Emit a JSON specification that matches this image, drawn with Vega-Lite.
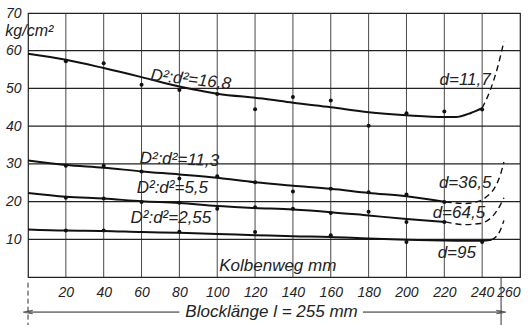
{
  "$schema": "https://vega.github.io/schema/vega-lite/v6.json",
  "width": 492,
  "height": 264,
  "autosize": "none",
  "padding": {"left": 28, "top": 13, "right": 8, "bottom": 48},
  "background": "white",
  "config": {
    "view": {"stroke": "#222", "strokeWidth": 1.2},
    "font": "Liberation Sans",
    "axis": {"grid": false, "labelOverlap": false, "labelFont": "Liberation Sans", "labelFontStyle": "italic", "labelFontSize": 14, "labelColor": "#222", "domain": false, "ticks": true, "tickSize": 0, "tickOpacity": 0, "title": null}
  },
  "datasets": {
    "grid": [
      {"g": "v20", "x": 20, "y": 0}, {"g": "v20", "x": 20, "y": 70},
      {"g": "v40", "x": 40, "y": 0}, {"g": "v40", "x": 40, "y": 70},
      {"g": "v60", "x": 60, "y": 0}, {"g": "v60", "x": 60, "y": 70},
      {"g": "v80", "x": 80, "y": 0}, {"g": "v80", "x": 80, "y": 70},
      {"g": "v100", "x": 100, "y": 0}, {"g": "v100", "x": 100, "y": 70},
      {"g": "v120", "x": 120, "y": 0}, {"g": "v120", "x": 120, "y": 70},
      {"g": "v140", "x": 140, "y": 0}, {"g": "v140", "x": 140, "y": 70},
      {"g": "v160", "x": 160, "y": 0}, {"g": "v160", "x": 160, "y": 70},
      {"g": "v180", "x": 180, "y": 0}, {"g": "v180", "x": 180, "y": 70},
      {"g": "v200", "x": 200, "y": 0}, {"g": "v200", "x": 200, "y": 70},
      {"g": "v220", "x": 220, "y": 0}, {"g": "v220", "x": 220, "y": 70},
      {"g": "v240", "x": 240, "y": 0}, {"g": "v240", "x": 240, "y": 70}
    ],
    "hgrid": [
      {"g": "h10", "x": 0, "y": 10}, {"g": "h10", "x": 130, "y": 10}, {"g": "h10", "x": 260, "y": 10},
      {"g": "h20", "x": 0, "y": 20}, {"g": "h20", "x": 130, "y": 20}, {"g": "h20", "x": 260, "y": 20},
      {"g": "h30", "x": 0, "y": 30}, {"g": "h30", "x": 130, "y": 30}, {"g": "h30", "x": 260, "y": 30},
      {"g": "h40", "x": 0, "y": 40}, {"g": "h40", "x": 130, "y": 40}, {"g": "h40", "x": 260, "y": 40},
      {"g": "h50", "x": 0, "y": 50}, {"g": "h50", "x": 130, "y": 50}, {"g": "h50", "x": 260, "y": 50},
      {"g": "h60", "x": 0, "y": 60}, {"g": "h60", "x": 130, "y": 60}, {"g": "h60", "x": 260, "y": 60}
    ],
    "curves": [
      {"s": "a", "p": "solid", "x": 0, "y": 59.2}, {"s": "a", "p": "solid", "x": 20, "y": 57.6}, {"s": "a", "p": "solid", "x": 40, "y": 55.4}, {"s": "a", "p": "solid", "x": 60, "y": 53.0}, {"s": "a", "p": "solid", "x": 80, "y": 50.5}, {"s": "a", "p": "solid", "x": 100, "y": 48.6}, {"s": "a", "p": "solid", "x": 124, "y": 47.3}, {"s": "a", "p": "solid", "x": 140, "y": 46.2}, {"s": "a", "p": "solid", "x": 160, "y": 45.0}, {"s": "a", "p": "solid", "x": 180, "y": 43.7}, {"s": "a", "p": "solid", "x": 200, "y": 42.9}, {"s": "a", "p": "solid", "x": 220, "y": 42.4}, {"s": "a", "p": "solid", "x": 226, "y": 42.4}, {"s": "a", "p": "solid", "x": 234, "y": 43.5}, {"s": "a", "p": "solid", "x": 240, "y": 44.8},
      {"s": "a", "p": "dash", "x": 240, "y": 44.8}, {"s": "a", "p": "dash", "x": 244.4, "y": 49.7}, {"s": "a", "p": "dash", "x": 248.8, "y": 56.8}, {"s": "a", "p": "dash", "x": 251.5, "y": 62.5},
      {"s": "b", "p": "solid", "x": 0, "y": 30.9}, {"s": "b", "p": "solid", "x": 20, "y": 29.7}, {"s": "b", "p": "solid", "x": 40, "y": 29.0}, {"s": "b", "p": "solid", "x": 60, "y": 28.0}, {"s": "b", "p": "solid", "x": 80, "y": 27.2}, {"s": "b", "p": "solid", "x": 100, "y": 26.3}, {"s": "b", "p": "solid", "x": 120, "y": 25.1}, {"s": "b", "p": "solid", "x": 140, "y": 24.2}, {"s": "b", "p": "solid", "x": 160, "y": 23.4}, {"s": "b", "p": "solid", "x": 180, "y": 22.3}, {"s": "b", "p": "solid", "x": 200, "y": 21.4}, {"s": "b", "p": "solid", "x": 220.7, "y": 19.9},
      {"s": "b", "p": "dash", "x": 220.7, "y": 19.9}, {"s": "b", "p": "dash", "x": 231.2, "y": 19.5}, {"s": "b", "p": "dash", "x": 238.3, "y": 20.1}, {"s": "b", "p": "dash", "x": 242.6, "y": 21.4}, {"s": "b", "p": "dash", "x": 247.1, "y": 24.1}, {"s": "b", "p": "dash", "x": 249.7, "y": 27.2}, {"s": "b", "p": "dash", "x": 251.5, "y": 30.5},
      {"s": "c", "p": "solid", "x": 0, "y": 22.3}, {"s": "c", "p": "solid", "x": 20, "y": 21.3}, {"s": "c", "p": "solid", "x": 40, "y": 20.8}, {"s": "c", "p": "solid", "x": 60, "y": 20.1}, {"s": "c", "p": "solid", "x": 80, "y": 19.6}, {"s": "c", "p": "solid", "x": 100, "y": 18.8}, {"s": "c", "p": "solid", "x": 120, "y": 18.3}, {"s": "c", "p": "solid", "x": 140, "y": 17.9}, {"s": "c", "p": "solid", "x": 160, "y": 17.2}, {"s": "c", "p": "solid", "x": 180, "y": 16.3}, {"s": "c", "p": "solid", "x": 200, "y": 15.4}, {"s": "c", "p": "solid", "x": 220.7, "y": 14.6},
      {"s": "c", "p": "dash", "x": 220.7, "y": 14.6}, {"s": "c", "p": "dash", "x": 231, "y": 13.9}, {"s": "c", "p": "dash", "x": 239, "y": 14.2}, {"s": "c", "p": "dash", "x": 243.5, "y": 15.2}, {"s": "c", "p": "dash", "x": 247, "y": 17.0}, {"s": "c", "p": "dash", "x": 249.7, "y": 19.2}, {"s": "c", "p": "dash", "x": 251.5, "y": 21.0},
      {"s": "d", "p": "solid", "x": 0, "y": 12.6}, {"s": "d", "p": "solid", "x": 20, "y": 12.3}, {"s": "d", "p": "solid", "x": 40, "y": 12.2}, {"s": "d", "p": "solid", "x": 60, "y": 11.9}, {"s": "d", "p": "solid", "x": 80, "y": 11.7}, {"s": "d", "p": "solid", "x": 100, "y": 11.4}, {"s": "d", "p": "solid", "x": 120, "y": 11.1}, {"s": "d", "p": "solid", "x": 140, "y": 10.8}, {"s": "d", "p": "solid", "x": 160, "y": 10.6}, {"s": "d", "p": "solid", "x": 180, "y": 10.2}, {"s": "d", "p": "solid", "x": 200, "y": 9.9}, {"s": "d", "p": "solid", "x": 220, "y": 9.7}, {"s": "d", "p": "solid", "x": 240, "y": 9.6}, {"s": "d", "p": "solid", "x": 245, "y": 9.9},
      {"s": "d", "p": "dash", "x": 245, "y": 9.9}, {"s": "d", "p": "dash", "x": 247.2, "y": 10.6}, {"s": "d", "p": "dash", "x": 249.3, "y": 12.1}, {"s": "d", "p": "dash", "x": 251.5, "y": 15.0}
    ],
    "points": [
      {"s": "a", "x": 20, "y": 57.2}, {"s": "a", "x": 40, "y": 56.7}, {"s": "a", "x": 60, "y": 51.0}, {"s": "a", "x": 80, "y": 49.6}, {"s": "a", "x": 100, "y": 48.5}, {"s": "a", "x": 120, "y": 44.5}, {"s": "a", "x": 140, "y": 47.7}, {"s": "a", "x": 160, "y": 46.8}, {"s": "a", "x": 180, "y": 40.1}, {"s": "a", "x": 200, "y": 43.4}, {"s": "a", "x": 220, "y": 43.9}, {"s": "a", "x": 240, "y": 44.4},
      {"s": "b", "x": 20, "y": 29.5}, {"s": "b", "x": 40, "y": 29.5}, {"s": "b", "x": 60, "y": 28.0}, {"s": "b", "x": 80, "y": 26.1}, {"s": "b", "x": 100, "y": 26.7}, {"s": "b", "x": 120, "y": 25.1}, {"s": "b", "x": 140, "y": 22.7}, {"s": "b", "x": 160, "y": 23.4}, {"s": "b", "x": 180, "y": 22.5}, {"s": "b", "x": 200, "y": 21.9}, {"s": "b", "x": 220, "y": 19.9},
      {"s": "c", "x": 20, "y": 21.0}, {"s": "c", "x": 40, "y": 20.8}, {"s": "c", "x": 60, "y": 19.9}, {"s": "c", "x": 80, "y": 19.7}, {"s": "c", "x": 100, "y": 18.1}, {"s": "c", "x": 120, "y": 18.5}, {"s": "c", "x": 140, "y": 18.1}, {"s": "c", "x": 160, "y": 17.0}, {"s": "c", "x": 180, "y": 17.3}, {"s": "c", "x": 200, "y": 14.6}, {"s": "c", "x": 220, "y": 14.6},
      {"s": "d", "x": 20, "y": 12.3}, {"s": "d", "x": 40, "y": 12.3}, {"s": "d", "x": 80, "y": 12.0}, {"s": "d", "x": 120, "y": 11.9}, {"s": "d", "x": 160, "y": 11.1}, {"s": "d", "x": 200, "y": 9.3}, {"s": "d", "x": 240, "y": 9.3}
    ],
    "labels": [
      {"t": "D²:d²=16,8", "x": 86, "y": 52.3, "a": 6.5, "fs": 17},
      {"t": "D²:d²=11,3", "x": 80, "y": 31.1, "a": 2, "fs": 17},
      {"t": "D²:d²=5,5", "x": 76.3, "y": 23.6, "a": 0, "fs": 17},
      {"t": "D²:d²=2,55", "x": 75.5, "y": 15.7, "a": 0, "fs": 17},
      {"t": "d=11,7", "x": 231, "y": 52.3, "a": 0, "fs": 17},
      {"t": "d=36,5", "x": 231, "y": 25.0, "a": 0, "fs": 17},
      {"t": "d=64,5", "x": 227.7, "y": 17.0, "a": 0, "fs": 17},
      {"t": "d=95", "x": 226.6, "y": 6.4, "a": 0, "fs": 17},
      {"t": "Kolbenweg mm", "x": 132, "y": 3.0, "a": 0, "fs": 17},
      {"t": "Blocklänge l = 255 mm", "x": 128.7, "y": -9.3, "a": 0, "fs": 17}
    ],
    "unit": [{"t": "kg/cm²", "x": -12, "y": 65.2}],
    "arrow": [
      {"x": 0, "x2": 80, "y": -9.3},
      {"x": 177, "x2": 250, "y": -9.3}
    ],
    "heads": [
      {"x": 0, "y": -9.3, "dir": "L"},
      {"x": 250, "y": -9.3, "dir": "R"}
    ],
    "vlines": [
      {"x": 0, "y": -1.5, "y2": -13, "k": "dash"},
      {"x": 250, "y": 0, "y2": -13, "k": "solid"}
    ]
  },
  "encoding": {
    "x": {"field": "x", "type": "quantitative", "scale": {"domain": [0, 260], "nice": false, "zero": false},
      "axis": {"values": [0, 20, 40, 60, 80, 100, 120, 140, 160, 180, 200, 220, 240, 260], "labelExpr": "datum.value == 0 ? '' : datum.label", "labelPadding": 8, "labelOverlap": false}},
    "y": {"field": "y", "type": "quantitative", "scale": {"domain": [0, 70], "nice": false, "zero": false},
      "axis": {"values": [0, 10, 20, 30, 40, 50, 60, 70], "labelExpr": "datum.value == 0 ? '' : datum.label", "labelPadding": 7, "labelOverlap": false}}
  },
  "layer": [
    {
      "data": {"name": "grid"},
      "mark": {"type": "line", "color": "#333", "strokeWidth": 0.9, "interpolate": "linear"},
      "encoding": {"detail": {"field": "g"}}
    },
    {
      "data": {"name": "hgrid"},
      "mark": {"type": "line", "color": "#222", "strokeWidth": 1.3, "interpolate": "linear"},
      "encoding": {"detail": {"field": "g"}}
    },
    {
      "data": {"name": "curves"},
      "transform": [{"filter": "datum.p == 'solid'"}],
      "mark": {"type": "line", "interpolate": "monotone", "color": "#111", "strokeWidth": 2},
      "encoding": {"detail": {"field": "s"}}
    },
    {
      "data": {"name": "curves"},
      "transform": [{"filter": "datum.p == 'dash'"}],
      "mark": {"type": "line", "interpolate": "monotone", "color": "#111", "strokeWidth": 1.4, "strokeDash": [6, 4]},
      "encoding": {"detail": {"field": "s"}}
    },
    {
      "data": {"name": "points"},
      "mark": {"type": "circle", "color": "#111", "size": 16, "opacity": 1}
    },
    {
      "data": {"name": "arrow"},
      "mark": {"type": "rule", "color": "#222", "strokeWidth": 1},
      "encoding": {"x2": {"field": "x2"}}
    },
    {
      "data": {"name": "heads"},
      "mark": {"type": "point", "filled": false, "color": "#222", "strokeWidth": 1.2, "size": 90},
      "encoding": {
        "shape": {"field": "dir", "type": "nominal", "scale": {"domain": ["L", "R"], "range": ["M1,-0.35L-1,0L1,0.35", "M-1,-0.35L1,0L-1,0.35"]}, "legend": null}
      }
    },
    {
      "data": {"name": "vlines"},
      "mark": {"type": "rule", "color": "#333", "strokeWidth": 1},
      "encoding": {
        "y2": {"field": "y2"},
        "strokeDash": {"field": "k", "type": "nominal", "scale": {"domain": ["dash", "solid"], "range": [[5, 3], [1, 0]]}, "legend": null}
      }
    },
    {
      "data": {"name": "labels"},
      "mark": {"type": "text", "color": "#222", "fontStyle": "italic", "font": "Liberation Sans", "baseline": "middle", "align": "center"},
      "encoding": {
        "text": {"field": "t"},
        "angle": {"field": "a", "type": "quantitative", "scale": null},
        "size": {"field": "fs", "type": "quantitative", "scale": null}
      }
    },
    {
      "data": {"name": "unit"},
      "mark": {"type": "text", "color": "#222", "fontStyle": "italic", "font": "Liberation Sans", "baseline": "middle", "align": "left", "fontSize": 16},
      "encoding": {"text": {"field": "t"}}
    }
  ]
}
